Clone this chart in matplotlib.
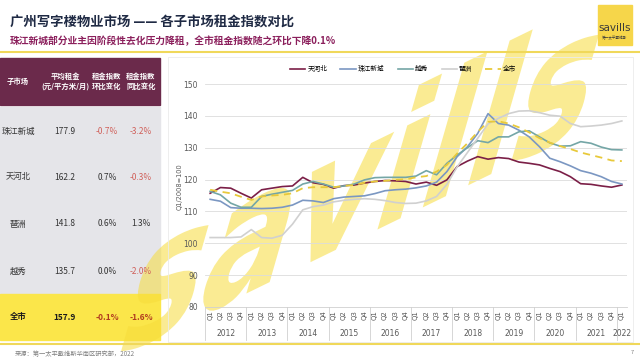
import matplotlib
matplotlib.use('Agg')
import matplotlib.pyplot as plt
from matplotlib.patches import Rectangle
from matplotlib.patheffects import AbstractPathEffect
from matplotlib.transforms import Affine2D
import matplotlib.transforms as mtransforms

plt.rcParams['font.family'] = ['Noto Sans CJK SC', 'DejaVu Sans']

# ---------------- data ----------------
quarter_labels = ['Q1', 'Q2', 'Q3', 'Q4'] * 10 + ['Q1']
year_labels = ['2012', '2013', '2014', '2015', '2016', '2017', '2018', '2019', '2020', '2021', '2022']

tianhebei = [115.7, 117.5, 117.3, 115.7, 114.2, 116.8, 117.3, 117.8, 118.0, 120.7,
             119.0, 118.5, 117.3, 118.1, 118.3, 118.9, 119.4, 119.7, 119.6, 119.4,
             118.6, 119.2, 118.2, 119.9, 124.1, 125.8, 127.2, 126.4, 126.9, 126.6,
             125.5, 125.1, 124.6, 123.5, 122.5, 120.9, 118.7, 118.5, 118.0, 117.6, 118.3]
zhujiang = [113.8, 113.2, 111.2, 111.0, 111.0, 110.9, 111.0, 111.3, 112.0, 113.5,
            113.3, 112.8, 114.0, 114.5, 114.7, 114.9, 115.6, 116.5, 116.8, 117.0,
            117.4, 118.0, 119.2, 122.5, 127.2, 130.3, 134.5, 140.7, 137.6, 137.1,
            135.5, 133.4, 130.3, 126.7, 125.6, 124.3, 122.8, 122.0, 120.9, 119.4, 118.6]
yuexiu = [116.3, 115.2, 112.6, 111.3, 111.3, 114.7, 115.4, 116.0, 116.6, 118.6,
          119.4, 118.6, 117.6, 118.0, 118.6, 119.9, 120.6, 120.7, 120.7, 120.7,
          121.1, 122.8, 121.5, 125.1, 127.7, 130.0, 132.2, 131.6, 133.4, 133.4,
          135.0, 135.3, 133.4, 131.5, 130.5, 130.6, 131.9, 131.4, 130.2, 129.4, 129.3]
pazhou = [101.8, 101.8, 101.8, 102.0, 104.3, 101.8, 101.6, 102.5, 106.0, 110.5,
          111.5, 112.0, 113.0, 113.5, 113.8, 114.0, 113.8, 113.4, 112.8, 112.5,
          112.6, 113.3, 114.7, 118.5, 124.0, 128.5, 133.0, 137.5, 139.2, 140.7,
          141.5, 141.6, 141.0, 140.2, 139.9, 137.6, 136.6, 136.8, 137.1, 137.6, 138.4]
quanshi = [116.8, 116.2, 115.7, 114.6, 113.6, 114.7, 115.0, 115.2, 115.7, 117.3,
           117.6, 117.6, 117.6, 118.0, 118.3, 119.0, 119.4, 119.6, 119.9, 120.1,
           120.7, 121.1, 122.5, 124.6, 128.2, 131.4, 135.0, 138.1, 138.3, 137.6,
           136.4, 134.8, 133.0, 131.6, 130.5, 129.6, 128.5, 127.7, 126.9, 126.0, 125.8]

series_names = ['天河北', '珠江新城', '越秀', '琶洲', '全市']

table_header = ['子市场', '平均租金\n(元/平方米/月)', '租金指数\n环比变化', '租金指数\n同比变化']
table_rows = ['珠江新城', '天河北', '琶洲', '越秀', '全市']
avg_rent = ['177.9', '162.2', '141.8', '135.7', '157.9']
qoq = ['-0.7%', '0.7%', '0.6%', '0.0%', '-0.1%']
yoy = ['-3.2%', '-0.3%', '1.3%', '-2.0%', '-1.6%']

title = '广州写字楼物业市场 —— 各子市场租金指数对比'
subtitle = '珠江新城部分业主因阶段性去化压力降租，全市租金指数随之环比下降0.1%'
source = '来源：第一太平戴维斯华南区研究部，2022'


class SlantedMark(AbstractPathEffect):
    """Enlarge, slant, tilt and shift the glyph outlines of the background watermark."""
    def __init__(self, scale, skew_deg, rot_deg, dx, dy):
        super().__init__()
        self._pre = Affine2D().scale(scale).skew_deg(skew_deg, 0).rotate_deg(rot_deg)
        self._post = Affine2D().translate(dx, dy)

    def draw_path(self, renderer, gc, tpath, affine, rgbFace=None):
        renderer.draw_path(gc, tpath, self._pre + affine + self._post, rgbFace)


# ---------------- figure ----------------
W, H = 640, 360
fig = plt.figure(figsize=(6.4, 3.6), dpi=100)
bg = fig.add_axes([0, 0, 1, 1])
bg.set_xlim(0, W)
bg.set_ylim(H, 0)
bg.axis('off')

# header
bg.text(10, 22, title, fontsize=9.6, fontweight='bold', color='#1f2a44', va='center', ha='left', zorder=5)
bg.text(10, 41, subtitle, fontsize=7.05, fontweight='bold', color='#8b1f5c', va='center', ha='left', zorder=5)
bg.plot([0, W], [52, 52], color='#f0d85a', lw=1.5, zorder=4)

# logo
bg.add_patch(Rectangle((598, 5), 34, 40, color='#f6d64a', zorder=4))
bg.text(615, 28, 'savills', fontsize=7.5, color='#3a3a3a', ha='center', va='center',
        family=['DejaVu Sans'], zorder=5)
bg.text(615, 38, '第一太平戴维斯', fontsize=2.6, color='#3a3a3a', ha='center', va='center', zorder=5)

# table backgrounds
bg.add_patch(Rectangle((0, 58), 160, 47, color='#6b2a4b', zorder=1))
bg.add_patch(Rectangle((0, 107), 160, 187, color='#e5e5e9', zorder=1))
bg.add_patch(Rectangle((0, 294), 160, 46, color='#fbe64a', zorder=1))

# watermark: anchored in an empty spot, drawn large, slanted and tilted by the path effect
wm_size = 8
bg.text(400, 295, 'savills', fontsize=wm_size, color='#f7dc3a', alpha=0.55,
        ha='left', va='baseline', fontweight='bold', family=['DejaVu Sans'], zorder=2,
        path_effects=[SlantedMark(106 / wm_size, 42, 26, -288, -64)])

# table text
col_x = [18, 65, 107, 141]
for cx, htxt in zip(col_x, table_header):
    bg.text(cx, 81, htxt, fontsize=5.3, fontweight='bold', color='white', ha='center', va='center',
            linespacing=1.3, zorder=5)
row_y = [131, 177, 224, 271, 317]
for i, (name, r, q, y) in enumerate(zip(table_rows, avg_rent, qoq, yoy)):
    last = (i == len(table_rows) - 1)
    fw = 'bold' if last else 'normal'
    base = '#1a1a1a' if last else '#333333'
    neg = '#b0391f' if last else '#d0605a'
    ty = row_y[i]
    bg.text(col_x[0], ty, name, fontsize=6, fontweight=fw, color=base, ha='center', va='center', zorder=5)
    bg.text(col_x[1], ty, r, fontsize=6, fontweight=fw, color=base, ha='center', va='center', zorder=5)
    bg.text(col_x[2], ty, q, fontsize=6, fontweight=fw, color=neg if q.startswith('-') else base,
            ha='center', va='center', zorder=5)
    bg.text(col_x[3], ty, y, fontsize=6, fontweight=fw, color=neg if y.startswith('-') else base,
            ha='center', va='center', zorder=5)

# chart frame
bg.add_patch(Rectangle((168, 57), 465, 285, fill=False, ec='#ebebeb', lw=0.6, zorder=3))

# footer
bg.plot([0, W], [344, 344], color='#f0d85a', lw=1.5, zorder=4)
bg.text(15, 354, source, fontsize=4.5, style='italic', color='#7f7f7f', ha='left', va='center', zorder=5)
bg.text(632, 353, '7', fontsize=4, color='#7f7f7f', ha='center', va='center', zorder=5)

# y label
bg.text(180, 187, 'Q1/2008=100', fontsize=4.8, rotation=90, color='#595959', ha='center', va='center',
        family=['DejaVu Sans'], zorder=5)

# ---------------- chart ----------------
left, right, top, bottom = 205, 627, 84, 307
ax = fig.add_axes([left / W, 1 - bottom / H, (right - left) / W, (bottom - top) / H])
ax.set_facecolor('none')
ax.set_zorder(3)

x = list(range(len(quarter_labels)))
colors = ['#7b1f47', '#7b97c2', '#74a6a6', '#d0d0d0', '#e8c93a']
data = [tianhebei, zhujiang, yuexiu, pazhou, quanshi]
for name, vals, c in zip(series_names, data, colors):
    if name == '全市':
        ax.plot(x, vals, color=c, lw=1.3, dashes=(4, 3), label=name, zorder=3)
    else:
        ax.plot(x, vals, color=c, lw=1.2, label=name, zorder=3)

ax.set_xlim(-0.5, len(x) - 0.5)
ax.set_ylim(80, 150)
ax.set_yticks(range(80, 151, 10))
ax.yaxis.grid(True, color='#dcdcdc', lw=0.6)
ax.set_axisbelow(True)
for s in ['top', 'right', 'left']:
    ax.spines[s].set_visible(False)
ax.spines['bottom'].set_color('#d0d0d0')
ax.spines['bottom'].set_linewidth(0.6)
ax.tick_params(axis='y', length=0, labelsize=5.5, labelcolor='#595959', pad=5)
ax.set_yticklabels([str(v) for v in range(80, 151, 10)], family=['DejaVu Sans'])
ax.set_xticks(x)
ax.set_xticklabels(quarter_labels, rotation=90, fontsize=5, color='#595959', family=['DejaVu Sans'])
ax.tick_params(axis='x', length=0, pad=2)

trans = mtransforms.blended_transform_factory(ax.transData, ax.transAxes)
ysep = -(340 - bottom) / (bottom - top)
for k in range(len(year_labels)):
    x0 = -0.5 + 4 * k
    ax.plot([x0, x0], [0, ysep], color='#d0d0d0', lw=0.6, transform=trans, clip_on=False)
    x1 = min(x0 + 4, len(x) - 0.5)
    ax.text((x0 + x1) / 2, -(333 - bottom) / (bottom - top), year_labels[k], transform=trans,
            fontsize=5.5, color='#595959', ha='center', va='center', family=['DejaVu Sans'])

ax.legend(loc='center', bbox_to_anchor=(403 / W, 1 - 69 / H), bbox_transform=fig.transFigure,
          ncol=5, frameon=False, fontsize=4.8, handlelength=2.3, handletextpad=0.3, columnspacing=2.0)

fig.savefig('out.png', dpi=100)
